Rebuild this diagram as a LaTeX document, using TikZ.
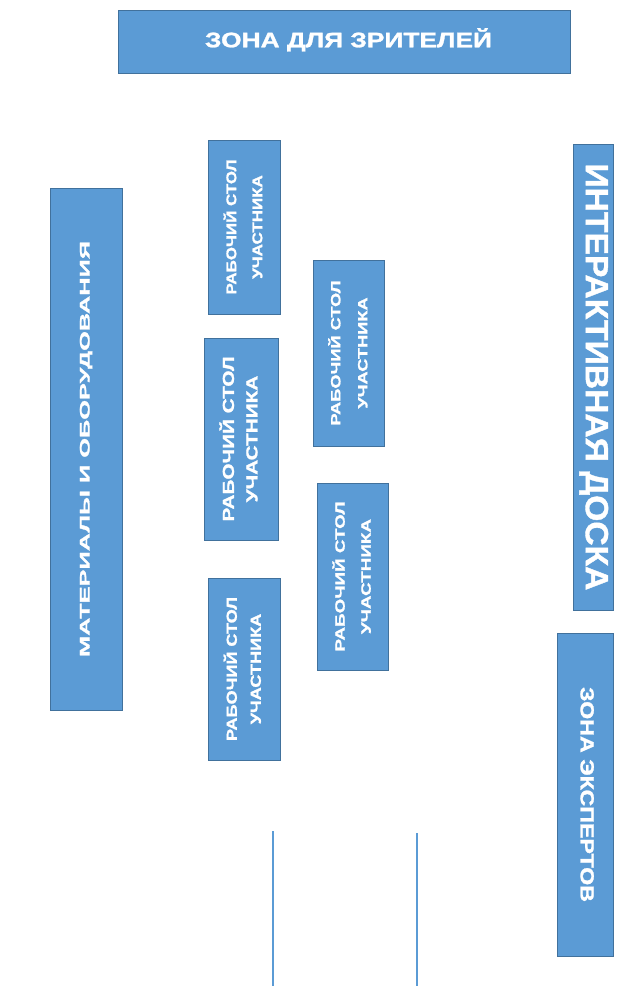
\documentclass[tikz,border=0pt]{standalone}
\usepackage{fontspec}
\setmainfont{Liberation Sans}
\newfontfamily\zfont{Liberation Sans Bold}[FakeBold=1.2]
\usepackage{graphicx}
\definecolor{zfill}{HTML}{5B9BD5}
\definecolor{zline}{HTML}{41719C}
\tikzset{
  zone/.style={draw=zline, line width=0.7pt, fill=zfill, text=white, inner sep=0pt, font=\zfont},
  divider/.style={draw=zfill, line width=1.5pt}
}
% angle, font size, baselineskip, stretched length, text
\newcommand{\ztext}[5]{\rotatebox{#1}{\zfont\fontsize{#2}{#3}\selectfont\resizebox{#4}{\height}{\begin{tabular}{@{}c@{}}#5\end{tabular}}}}
\begin{document}
\begin{tikzpicture}[x=1pt,y=-1pt]
\useasboundingbox (0,0) rectangle (636,986);
\node[zone, minimum width=452pt, minimum height=63pt] (spect) at (344,41.5)
  {\hspace*{9pt}\ztext{0}{21}{25}{287pt}{ЗОНА ДЛЯ ЗРИТЕЛЕЙ}};
\node[zone, minimum width=72pt, minimum height=522pt] (mat) at (86,449)
  {\ztext{90}{14}{18}{416pt}{МАТЕРИАЛЫ И ОБОРУДОВАНИЯ}};
\node[zone, minimum width=72pt, minimum height=174pt] (d1) at (244,227)
  {\ztext{90}{14}{26}{135pt}{РАБОЧИЙ СТОЛ\\УЧАСТНИКА}};
\node[zone, minimum width=74pt, minimum height=202pt] (d2) at (241,439)
  {\ztext{90}{16}{23.5}{165pt}{РАБОЧИЙ СТОЛ\\УЧАСТНИКА}};
\node[zone, minimum width=72pt, minimum height=182pt] (d3) at (244,669)
  {\ztext{90}{14.5}{24}{144pt}{РАБОЧИЙ СТОЛ\\УЧАСТНИКА}};
\node[zone, minimum width=71pt, minimum height=186pt] (d4) at (348.5,353)
  {\ztext{90}{13.5}{27}{145pt}{РАБОЧИЙ СТОЛ\\УЧАСТНИКА}};
\node[zone, minimum width=71pt, minimum height=187pt] (d5) at (352.5,576.5)
  {\ztext{90}{13.5}{26}{150pt}{РАБОЧИЙ СТОЛ\\УЧАСТНИКА}};
\node[zone, minimum width=40pt, minimum height=466pt] (board) at (593,377)
  {\ztext{-90}{32}{36}{427pt}{ИНТЕРАКТИВНАЯ ДОСКА}};
\node[zone, minimum width=56pt, minimum height=323pt] (exp) at (585,794.5)
  {\ztext{-90}{19}{22}{215pt}{ЗОНА ЭКСПЕРТОВ}};
\coordinate (l1top) at (273,831);
\coordinate (l1bot) at (273,986);
\coordinate (l2top) at (417,833);
\coordinate (l2bot) at (417,986);
\draw[divider] (l1top) -- (l1bot);
\draw[divider] (l2top) -- (l2bot);
\end{tikzpicture}
\end{document}
